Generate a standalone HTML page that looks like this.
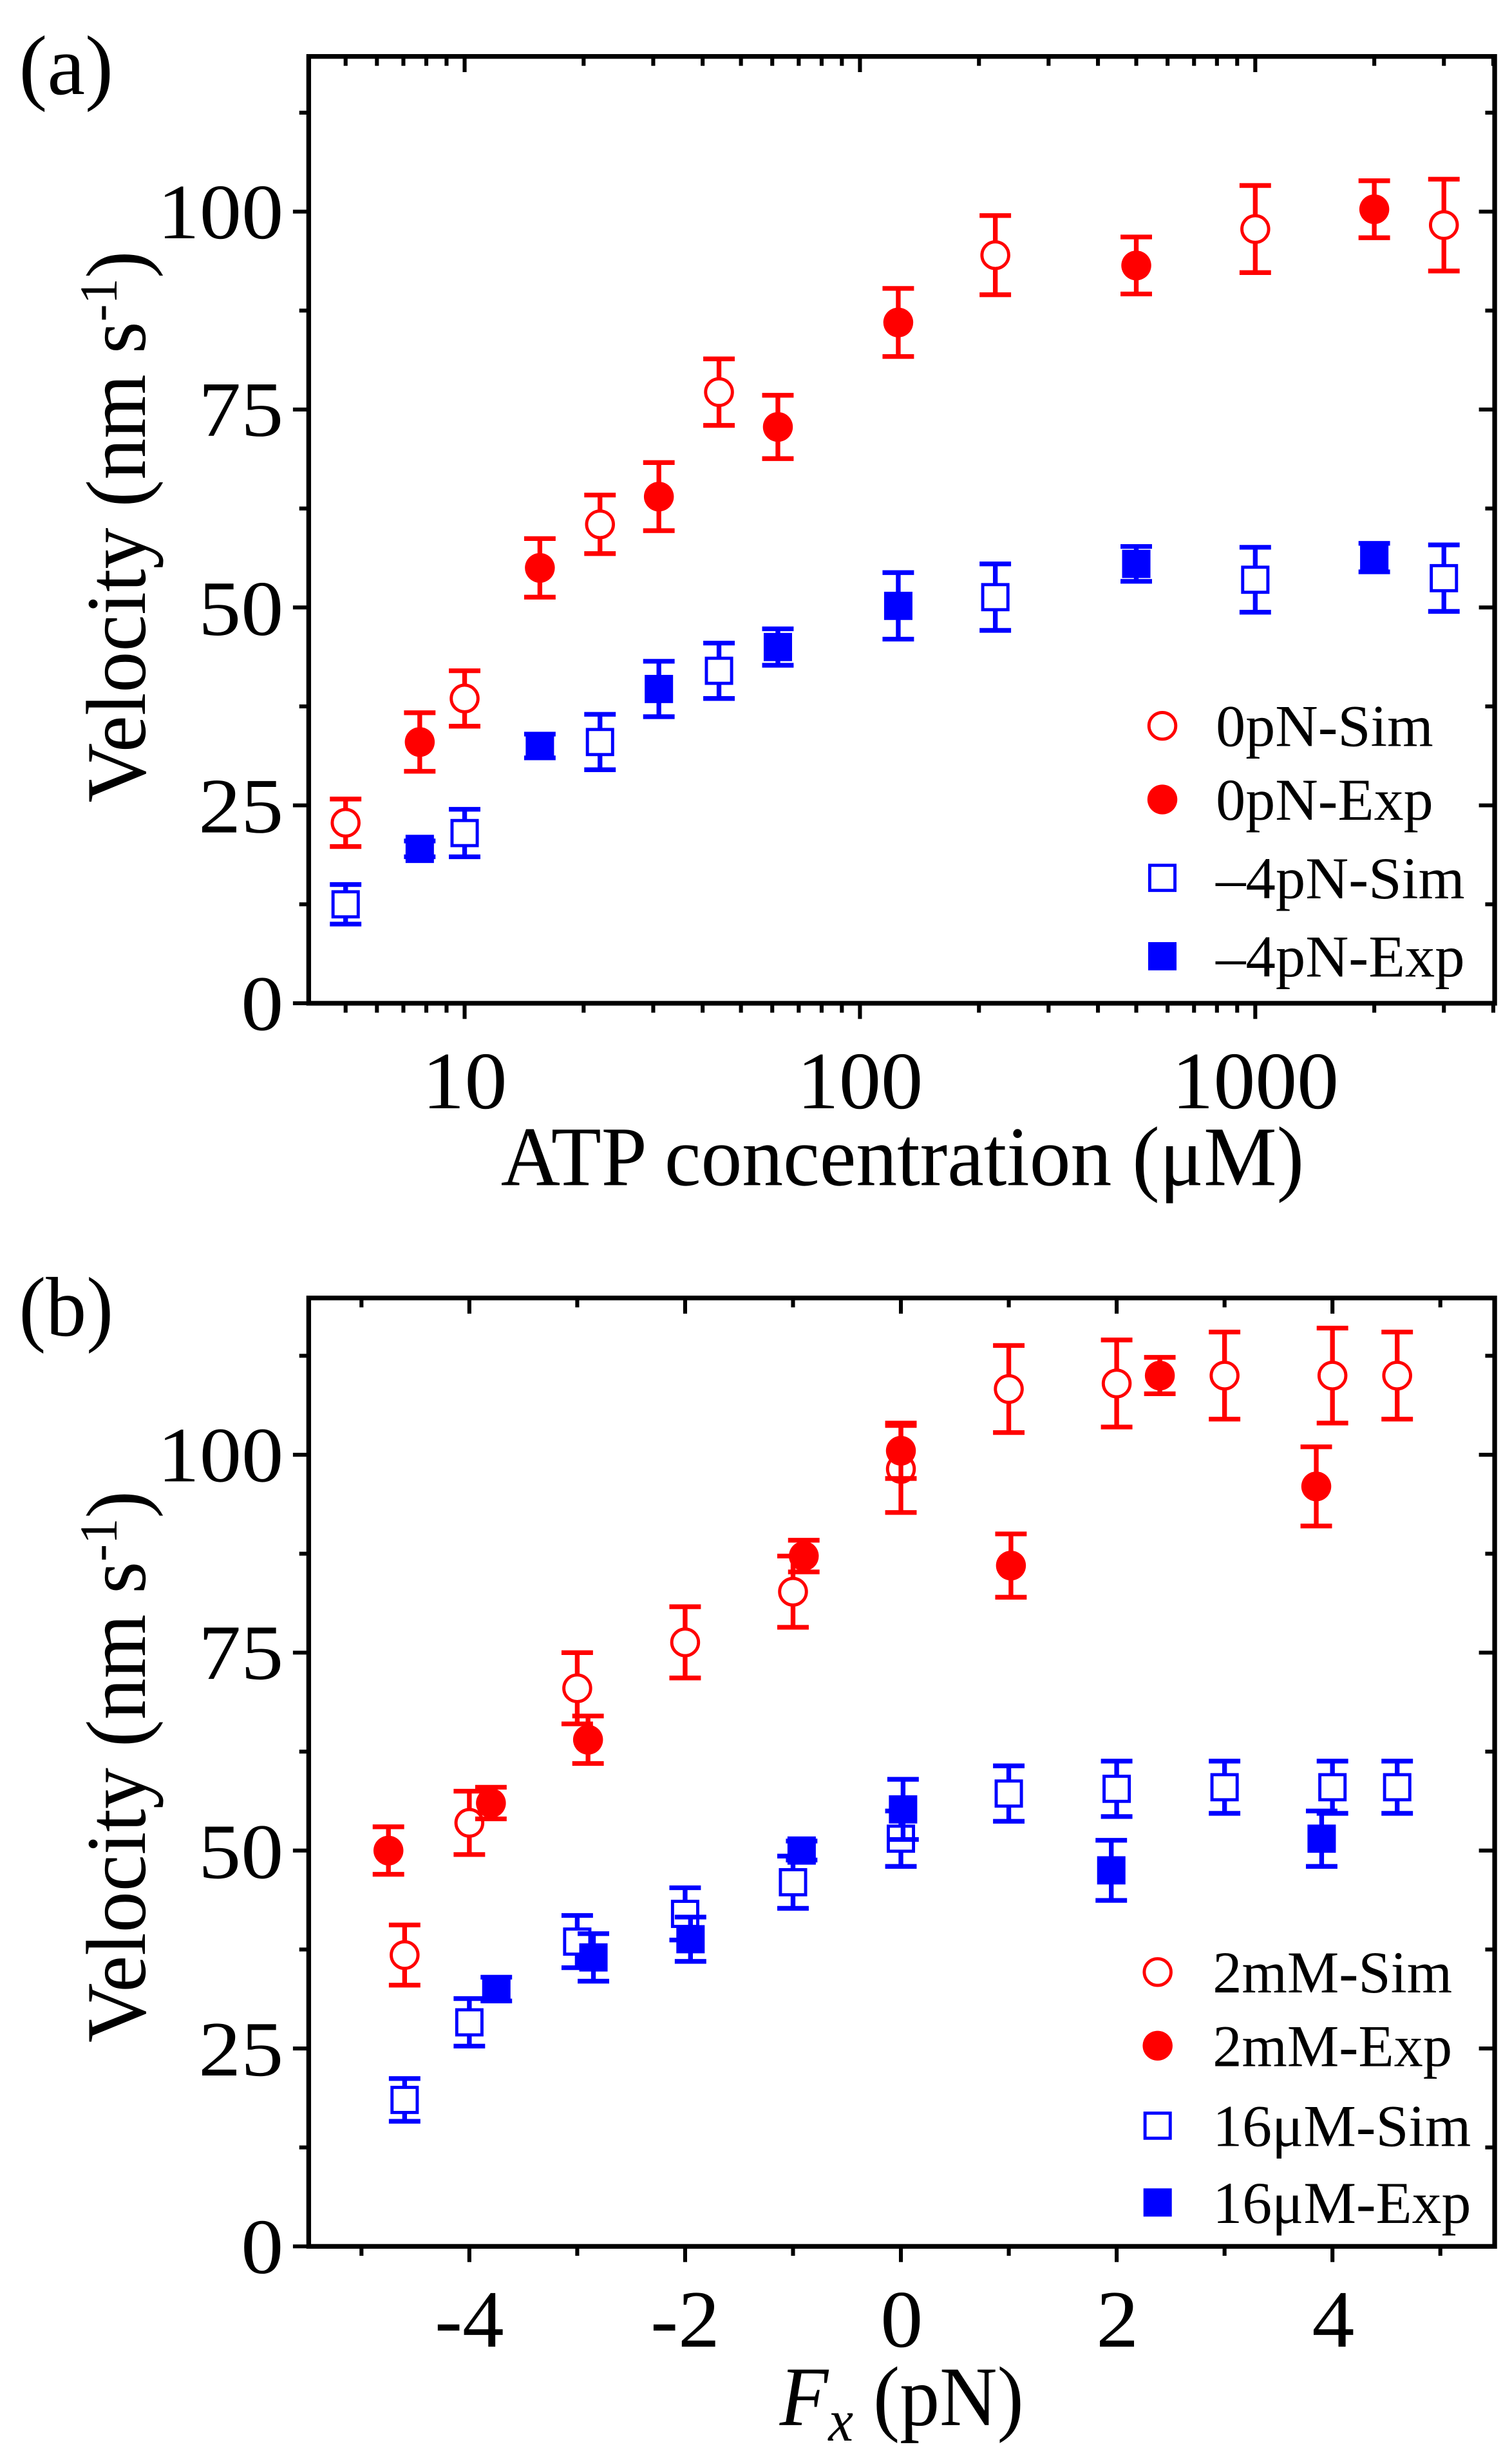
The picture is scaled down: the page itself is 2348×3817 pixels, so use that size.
<!DOCTYPE html>
<html><head><meta charset="utf-8"><style>
html,body{margin:0;padding:0;background:#fff;}
svg{display:block;}
text{font-family:"Liberation Serif",serif;fill:#000;}
</style></head><body>
<svg id="s" width="2348" height="3817" viewBox="0 0 960 1568" preserveAspectRatio="none" xmlns="http://www.w3.org/2000/svg">
<rect x="0" y="0" width="960" height="1568" fill="#fff"/>
<g id="g"></g>
<!-- panel a -->
<text x="12" y="60" font-size="54" textLength="60" lengthAdjust="spacingAndGlyphs">(a)</text>
<g font-size="50" text-anchor="end">
<text x="180" y="657" textLength="27" lengthAdjust="spacingAndGlyphs">0</text>
<text x="180" y="531" textLength="54" lengthAdjust="spacingAndGlyphs">25</text>
<text x="180" y="405" textLength="54" lengthAdjust="spacingAndGlyphs">50</text>
<text x="180" y="278" textLength="54" lengthAdjust="spacingAndGlyphs">75</text>
<text x="180" y="152" textLength="80" lengthAdjust="spacingAndGlyphs">100</text>
</g>
<g font-size="52">
<text x="268" y="707" textLength="54" lengthAdjust="spacingAndGlyphs">10</text>
<text x="506" y="707" textLength="80" lengthAdjust="spacingAndGlyphs">100</text>
<text x="744" y="707" textLength="106" lengthAdjust="spacingAndGlyphs">1000</text>
</g>
<text x="318" y="756" font-size="54" textLength="510" lengthAdjust="spacingAndGlyphs">ATP concentration (μM)</text>
<text transform="translate(92,512) rotate(-90)" font-size="54" textLength="352" lengthAdjust="spacingAndGlyphs">Velocity (nm s<tspan dy="-18" font-size="34">-1</tspan><tspan dy="18">)</tspan></text>
<g font-size="38">
<text x="772" y="476" textLength="138" lengthAdjust="spacingAndGlyphs">0pN-Sim</text>
<text x="772" y="523" textLength="138" lengthAdjust="spacingAndGlyphs">0pN-Exp</text>
<text x="772" y="573" textLength="158" lengthAdjust="spacingAndGlyphs">–4pN-Sim</text>
<text x="772" y="623" textLength="158" lengthAdjust="spacingAndGlyphs">–4pN-Exp</text>
</g>
<!-- panel b -->
<text x="12" y="852" font-size="54" textLength="60" lengthAdjust="spacingAndGlyphs">(b)</text>
<g font-size="50" text-anchor="end">
<text x="180" y="1450" textLength="27" lengthAdjust="spacingAndGlyphs">0</text>
<text x="180" y="1324" textLength="54" lengthAdjust="spacingAndGlyphs">25</text>
<text x="180" y="1198" textLength="54" lengthAdjust="spacingAndGlyphs">50</text>
<text x="180" y="1071" textLength="54" lengthAdjust="spacingAndGlyphs">75</text>
<text x="180" y="945" textLength="80" lengthAdjust="spacingAndGlyphs">100</text>
</g>
<g font-size="52">
<text x="276" y="1497" textLength="44" lengthAdjust="spacingAndGlyphs">-4</text>
<text x="413" y="1497" textLength="44" lengthAdjust="spacingAndGlyphs">-2</text>
<text x="559" y="1497" textLength="27" lengthAdjust="spacingAndGlyphs">0</text>
<text x="696" y="1497" textLength="27" lengthAdjust="spacingAndGlyphs">2</text>
<text x="833" y="1497" textLength="27" lengthAdjust="spacingAndGlyphs">4</text>
</g>
<text x="495" y="1547" font-size="54" textLength="155" lengthAdjust="spacingAndGlyphs"><tspan font-style="italic">F</tspan><tspan font-style="italic" font-size="38" dy="10">x</tspan><tspan dy="-10"> (pN)</tspan></text>
<text transform="translate(92,1303) rotate(-90)" font-size="54" textLength="352" lengthAdjust="spacingAndGlyphs">Velocity (nm s<tspan dy="-18" font-size="34">-1</tspan><tspan dy="18">)</tspan></text>
<g font-size="38">
<text x="770" y="1271" textLength="152" lengthAdjust="spacingAndGlyphs">2mM-Sim</text>
<text x="770" y="1318" textLength="152" lengthAdjust="spacingAndGlyphs">2mM-Exp</text>
<text x="770" y="1369" textLength="164" lengthAdjust="spacingAndGlyphs">16μM-Sim</text>
<text x="770" y="1418" textLength="164" lengthAdjust="spacingAndGlyphs">16μM-Exp</text>
</g>
</svg>
<script>
var g=document.getElementById('g'),NS='http://www.w3.org/2000/svg';
function el(t,a){var e=document.createElementNS(NS,t);for(var k in a)e.setAttribute(k,a[k]);g.appendChild(e);return e;}
function ln(x1,y1,x2,y2,c,w){el('line',{x1:x1,y1:y1,x2:x2,y2:y2,stroke:c,'stroke-width':w});}
var R='#ff0000',B='#0000ff';
function mark(x,y,type,c){
 if(type=='oc')el('circle',{cx:x,cy:y,r:8.5,fill:'#fff',stroke:c,'stroke-width':2});
 if(type=='fc')el('circle',{cx:x,cy:y,r:9.5,fill:c});
 if(type=='os')el('rect',{x:x-8,y:y-8,width:16,height:16,fill:'#fff',stroke:c,'stroke-width':2});
 if(type=='fs')el('rect',{x:x-9,y:y-9,width:18,height:18,fill:c});
}
function series(pts,fx,fy,type,c){
 pts.forEach(function(p){var x=fx(p[0]),y=fy(p[1]),yt=fy(p[1]+p[2]),yb=fy(p[1]-p[2]);
  ln(x,yt,x,yb,c,3);ln(x-10,yt,x+10,yt,c,3);ln(x-10,yb,x+10,yb,c,3);mark(x,y,type,c);});
}
function frame(L,Rt,T,Bt){el('rect',{x:L,y:T,width:Rt-L,height:Bt-T,fill:'none',stroke:'#000','stroke-width':3});}
var fxa=function(v){return 295+251*(Math.log10(v)-1);},fya=function(v){return 640-5.05*v;};
frame(196,949,36,640);
for(var v=0;v<=120;v+=12.5){var y=fya(v),M=(v%25==0),l=M?10:6;ln(196-l,y,196,y,'#000',2.5);ln(949,y,949-l,y,'#000',2.5);}
for(var d=0;d<4;d++)for(var m=1;m<10;m++){var val=m*Math.pow(10,d);if(val<4.05||val>4030)continue;var x=fxa(val),l=(m==1)?10:6;ln(x,640,x,640+l,'#000',2.5);ln(x,36,x,36+l,'#000',2.5);}
series([[5,22.8,3],[10,38.5,3.5],[22,60.5,3.7],[44,77.2,4.2],[220,94.5,5],[1000,97.8,5.5],[3000,98.3,5.8]],fxa,fya,'oc',R);
series([[7.7,33,3.7],[15.5,55,3.7],[31,64,4.3],[62,72.8,4],[125,86,4.3],[500,93.2,3.6],[2000,100.3,3.6]],fxa,fya,'fc',R);
series([[5,12.5,2.5],[10,21.5,3],[22,33,3.5],[44,42,3.5],[220,51.3,4.2],[1000,53.5,4.1],[3000,53.7,4.2]],fxa,fya,'os',B);
series([[7.7,19.5,1],[15.5,32.5,1.5],[31,39.7,3.5],[62,45,2.3],[125,50.2,4.2],[500,55.5,2.2],[2000,56.3,1.8]],fxa,fya,'fs',B);
mark(738,463,'oc',R);mark(738,510,'fc',R);mark(738,560,'os',B);mark(738,610,'fs',B);
var fxb=function(v){return 572+68.5*v;},fyb=function(v){return 1433-5.05*v;};
frame(196,949,828,1433);
for(var v=0;v<=120;v+=12.5){var y=fyb(v),M=(v%25==0),l=M?10:6;ln(196-l,y,196,y,'#000',2.5);ln(949,y,949-l,y,'#000',2.5);}
for(var v=-5;v<=5;v++){var x=fxb(v),l=(v%2==0)?10:6;ln(x,1433,x,1433+l,'#000',2.5);ln(x,828,x,828+l,'#000',2.5);}
series([[-4.6,36.8,3.8],[-4,53.5,4],[-3,70.5,4.5],[-2,76.3,4.5],[-1,82.7,4.5],[0,98.2,5.5],[1,108.3,5.5],[2,109,5.5],[3,110,5.5],[4,110,6],[4.6,110,5.5]],fxb,fyb,'oc',R);
series([[-4.75,50,3],[-3.8,56,2],[-2.9,64,3],[-0.9,87.2,2],[0,100.5,3.5],[1.02,86,4],[2.4,110,2.3],[3.85,96,5]],fxb,fyb,'fc',R);
series([[-4.6,18.5,2.7],[-4,28.3,3],[-3,38.5,3.3],[-2,42,3.3],[-1,46,3.3],[0,51.5,3.5],[1,57.2,3.5],[2,57.8,3.5],[3,58,3.3],[4,58,3.3],[4.6,58,3.3]],fxb,fyb,'os',B);
series([[-3.75,32.5,1.5],[-2.85,36.5,3],[-1.95,38.8,2.8],[-0.92,50,1.2],[0.02,55.2,3.8],[1.95,47.5,3.8],[3.9,51.5,3.5]],fxb,fyb,'fs',B);
mark(735,1258,'oc',R);mark(735,1305,'fc',R);mark(735,1356,'os',B);mark(735,1405,'fs',B);
</script>
</body></html>
